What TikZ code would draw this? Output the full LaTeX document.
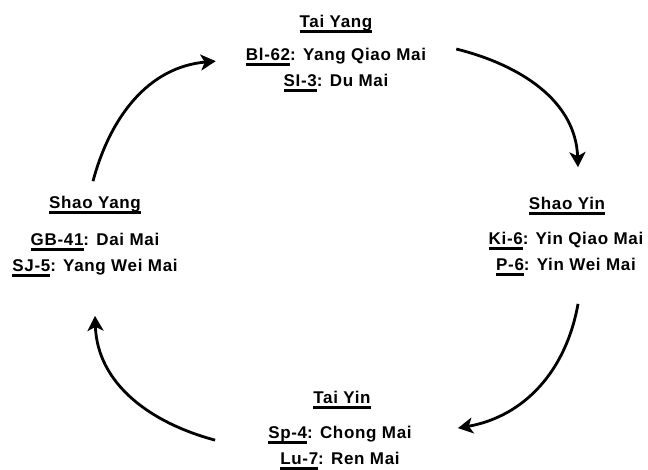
\documentclass[tikz,border=0pt]{standalone}
\usepackage{fontspec}
\setmainfont{Liberation Sans}[LetterSpace=4]
\usetikzlibrary{arrows.meta,positioning}

% underline for the phase names and the point codes
\newcommand{\meridul}[1]{\leavevmode\setbox0=\hbox{#1}\rlap{\rule[-5pt]{\wd0}{2.4pt}}\box0}

\begin{document}
\begin{tikzpicture}[x=1pt,y=-1pt,
        every node/.style={font=\fontsize{17}{26}\selectfont\bfseries, inner sep=0pt},
        points/.style={align=center},
        cycleflow/.style={-{Stealth[length=15pt,width=16pt,inset=4pt]}, line width=2.8pt, black}]
        \useasboundingbox (0,0) rectangle (648,469);

        % Tai Yang on top
        \node (taiyang) at (336,24) {\meridul{Tai Yang}};
        \node[points] (taiyangpts) at (336,70) {\meridul{Bl-62}: Yang Qiao Mai\\\meridul{SI-3}: Du Mai};

        % Shao Yin on the right
        \node (shaoyin) at (567,206) {\meridul{Shao Yin}};
        \node[points] (shaoyinpts) at (566,254) {\meridul{Ki-6}: Yin Qiao Mai\\\meridul{P-6}: Yin Wei Mai};

        % Tai Yin at the bottom
        \node (taiyin) at (342,400) {\meridul{Tai Yin}};
        \node[points] (taiyinpts) at (340,448) {\meridul{Sp-4}: Chong Mai\\\meridul{Lu-7}: Ren Mai};

        % Shao Yang on the left
        \node (shaoyang) at (95,205) {\meridul{Shao Yang}};
        \node[points] (shaoyangpts) at (95,255) {\meridul{GB-41}: Dai Mai\\\meridul{SJ-5}: Yang Wei Mai};

        % Arrows - clockwise round the four
        \draw[cycleflow] ([xshift=30pt,yshift=21pt]taiyangpts.east) to[out=-14,in=92] ([xshift=11pt,yshift=30pt]shaoyin.north);
        \draw[cycleflow] ([xshift=12pt,yshift=-28pt]shaoyinpts.south) to[out=-100,in=10] ([xshift=46pt,yshift=-2pt]taiyinpts.north east);
        \draw[cycleflow] ([xshift=-53pt,yshift=-14pt]taiyinpts.north west) to[out=165,in=-88] ([yshift=-39pt]shaoyangpts.south);
        \draw[cycleflow] ([xshift=-2pt,yshift=15pt]shaoyang.north) to[out=75,in=185] ([xshift=-30pt,yshift=-13pt]taiyangpts.north west);
    \end{tikzpicture}
\end{document}
